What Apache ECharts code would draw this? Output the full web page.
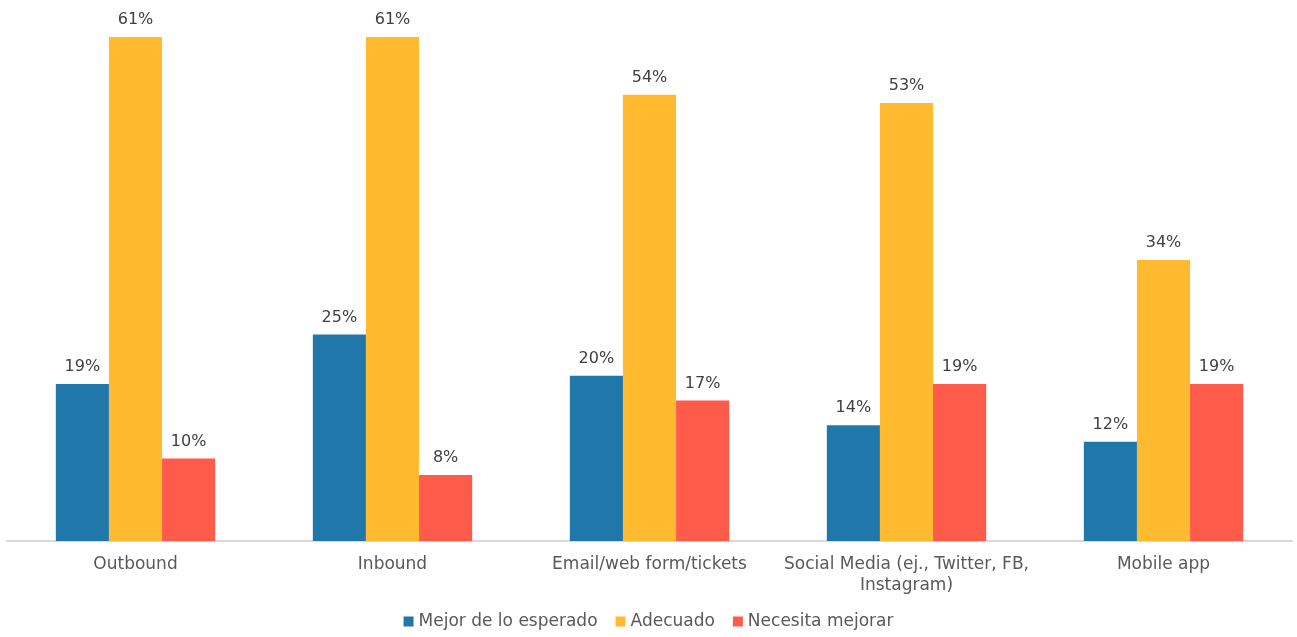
<!DOCTYPE html>
<html>
<head>
<meta charset="utf-8">
<script src="https://cdn.jsdelivr.net/npm/echarts@6/dist/echarts.min.js"></script>
<style>
  html, body { margin: 0; padding: 0; background: #ffffff; }
  #chart { width: 1297px; height: 637px; }
</style>
</head>
<body>
<div id="chart"></div>
<script>
// Channel satisfaction survey (percent of respondents)
const categories = [
  'Outbound',
  'Inbound',
  'Email/web form/tickets',
  'Social Media (ej., Twitter, FB,\nInstagram)',
  'Mobile app'
];
const seriesNames = ['Mejor de lo esperado', 'Adecuado', 'Necesita mejorar'];
const mejorValues = [19, 25, 20, 14, 12];
const adecuadoValues = [61, 61, 54, 53, 34];
const necesitaValues = [10, 8, 17, 19, 19];

const colors = ['#1F77AA', '#FFBA30', '#FF5B4A'];
const fontFamily = '"DejaVu Sans", "Open Sans", sans-serif';

const chart = echarts.init(document.getElementById('chart'), null, { renderer: 'canvas' });

function barSeries(name, data, color) {
  return {
    name: name,
    type: 'bar',
    data: data,
    barGap: '0%',
    barCategoryGap: '38%',
    itemStyle: { color: color },
    label: {
      show: true,
      position: 'top',
      distance: 9,
      formatter: '{c}%',
      color: '#404040',
      fontSize: 16,
      fontFamily: fontFamily
    }
  };
}

chart.setOption({
  animation: false,
  color: colors,
  grid: { left: 7, right: 5, top: 37, bottom: 96, containLabel: false },
  legend: {
    bottom: 2,
    left: 'center',
    icon: 'rect',
    itemWidth: 10,
    itemHeight: 10,
    itemGap: 18,
    textStyle: { color: '#595959', fontSize: 17, fontFamily: fontFamily },
    data: seriesNames
  },
  xAxis: {
    type: 'category',
    data: categories,
    axisLine: { show: true, lineStyle: { color: '#D9D9D9', width: 2 } },
    axisTick: { show: false },
    axisLabel: {
      color: '#595959',
      fontSize: 17,
      fontFamily: fontFamily,
      margin: 13,
      lineHeight: 21,
      interval: 0
    }
  },
  yAxis: {
    type: 'value',
    min: 0,
    max: 61,
    show: false,
    splitLine: { show: false }
  },
  series: [
    barSeries(seriesNames[0], mejorValues, colors[0]),
    barSeries(seriesNames[1], adecuadoValues, colors[1]),
    barSeries(seriesNames[2], necesitaValues, colors[2])
  ]
});
</script>
</body>
</html>
